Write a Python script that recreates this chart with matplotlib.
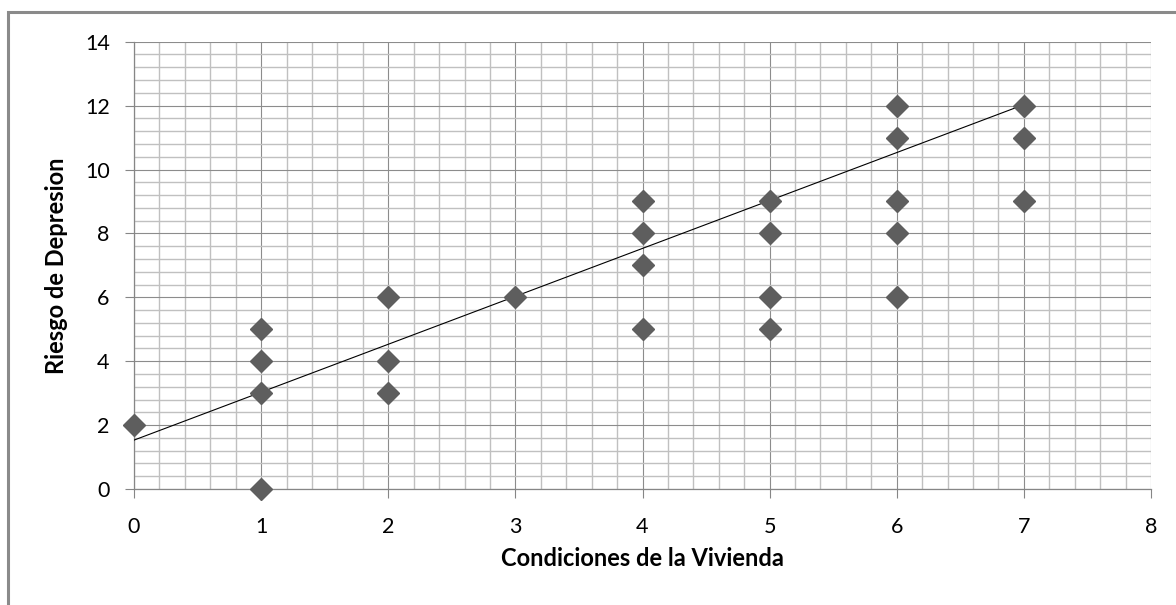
import matplotlib
matplotlib.use("Agg")
import matplotlib.pyplot as plt
from matplotlib.patches import Rectangle
from matplotlib.ticker import MultipleLocator

plt.rcParams['font.family'] = ['Lato', 'DejaVu Sans']

# data
condiciones = [0, 1, 1, 1, 1, 2, 2, 2, 3, 4, 4, 4, 4, 5, 5, 5, 5, 6, 6, 6, 6, 6, 7, 7, 7]
riesgo = [2, 5, 4, 3, 0, 6, 4, 3, 6, 9, 8, 7, 5, 9, 8, 6, 5, 12, 11, 9, 8, 6, 12, 11, 9]

# linear trend line as drawn (ends)
trend_x = [0, 7]
trend_y = [1.53, 12.03]

fig = plt.figure(figsize=(11.76, 6.05), dpi=100)
ax = fig.add_axes([134 / 1176, 116 / 605, 1017 / 1176, 447.3 / 605])

ax.set_xlim(0, 8)
ax.set_ylim(0, 14)
ax.xaxis.set_major_locator(MultipleLocator(1))
ax.xaxis.set_minor_locator(MultipleLocator(0.2))
ax.yaxis.set_major_locator(MultipleLocator(2))
ax.yaxis.set_minor_locator(MultipleLocator(0.4))

ax.grid(which='minor', color='#c0c0c0', linewidth=1.0)
ax.grid(which='major', color='#8c8c8c', linewidth=0.8)
ax.set_axisbelow(True)

ax.plot(trend_x, trend_y, color='black', linewidth=0.8, zorder=3)
ax.plot(condiciones, riesgo, linestyle='none', marker='D', markersize=11,
        color='#5e5e5e', zorder=4, clip_on=False)

for side in ['top', 'right']:
    ax.spines[side].set_visible(False)
for side in ['left', 'bottom']:
    ax.spines[side].set_color('#868686')
    ax.spines[side].set_linewidth(0.9)

ax.tick_params(which='major', direction='out', length=6.5, width=0.8,
               color='#868686', labelsize=15.5, labelcolor='black')
ax.tick_params(axis='x', which='major', pad=14)
ax.tick_params(axis='y', which='major', pad=11)
ax.tick_params(which='minor', length=0)

ax.set_xlabel('Condiciones de la Vivienda', fontsize=17, fontweight='bold', labelpad=7)
ax.set_ylabel('Riesgo de Depresion', fontsize=17, fontweight='bold', labelpad=12)

# outer chart border (runs off the right and bottom edges)
fig.patches.append(Rectangle((8 / 1176, -0.05), 1.1, (605 - 11.5) / 605 + 0.05,
                             transform=fig.transFigure, fill=False,
                             edgecolor='#8a8a8a', linewidth=2.2))

fig.savefig('out.png', dpi=100)
